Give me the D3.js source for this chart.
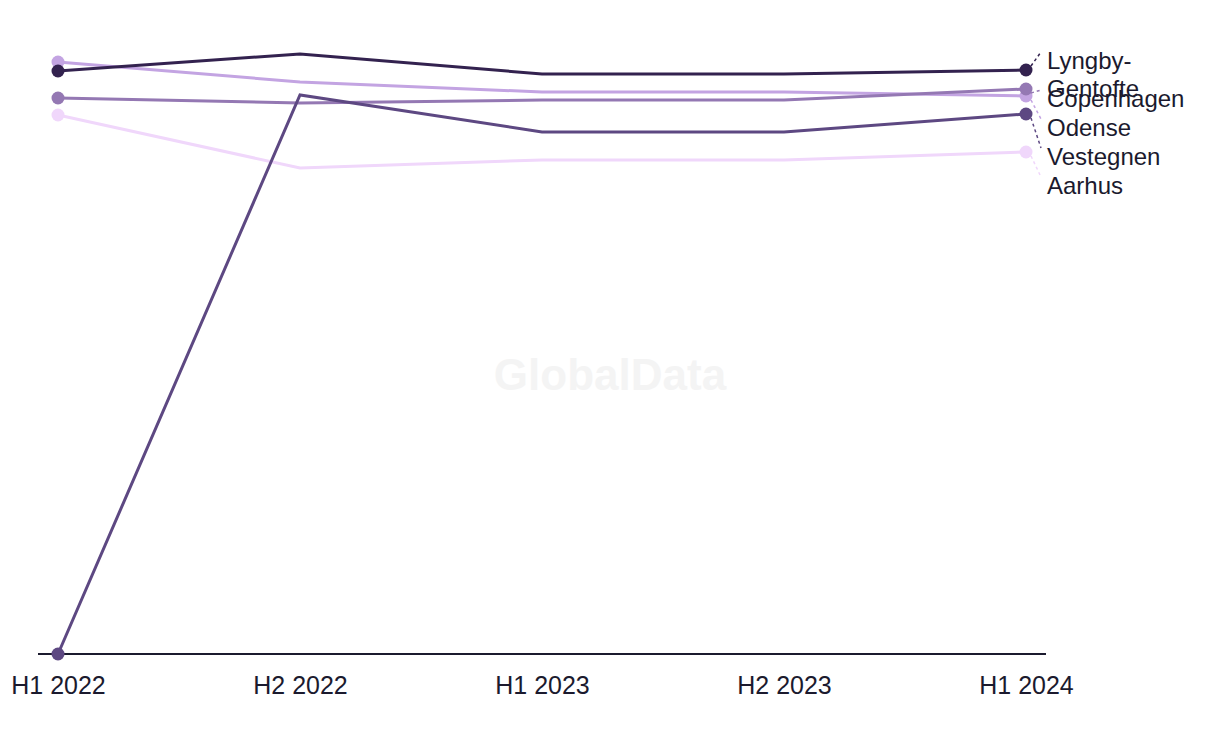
<!DOCTYPE html>
<html>
<head>
<meta charset="utf-8">
<script src="https://cdn.jsdelivr.net/npm/d3@7/dist/d3.min.js"></script>
<style>
  html, body { margin: 0; padding: 0; background: #fff; }
  svg { display: block; font-family: "Liberation Sans", "Inter", sans-serif; }
</style>
</head>
<body>
<div id="chart"></div>
<script>
// Periods on the x axis
const periods = ['H1 2022', 'H2 2022', 'H1 2023', 'H2 2023', 'H1 2024'];

// Series values
const lyngby = [58.3, 60.0, 58.0, 58.0, 58.4];
const copenhagen = [55.6, 55.1, 55.4, 55.4, 56.5];
const odense = [59.2, 57.2, 56.2, 56.2, 55.8];
const vestegnen = [0, 55.9, 52.2, 52.2, 54.0];
const aarhus = [53.9, 48.6, 49.4, 49.4, 50.2];

const seriesNames = ['Aarhus', 'Odense', 'Copenhagen', 'Vestegnen', 'Lyngby-Gentofte'];
const seriesValues = [aarhus, odense, copenhagen, vestegnen, lyngby];
const seriesColors = ['#f0d7fb', '#c3a4e2', '#9478b3', '#5d4882', '#33224f'];

const width = 1220;
const height = 744;
const margin = { top: 54, right: 194, bottom: 90, left: 58 };

const x = d3.scalePoint()
  .domain(periods)
  .range([margin.left, width - margin.right]);

const y = d3.scaleLinear()
  .domain([0, 60])
  .range([height - margin.bottom, margin.top]);

const svg = d3.select('#chart')
  .append('svg')
  .attr('width', width)
  .attr('height', height);

// Watermark
svg.append('text')
  .attr('x', 610)
  .attr('y', 374)
  .attr('text-anchor', 'middle')
  .attr('dominant-baseline', 'central')
  .attr('font-size', 44)
  .attr('font-weight', 'bold')
  .attr('fill', '#f4f4f4')
  .text('GlobalData');

// X axis
svg.append('g')
  .attr('transform', `translate(0,${y(0)})`)
  .call(d3.axisBottom(x).tickSize(0).tickPadding(22))
  .call(g => g.select('.domain').remove())
  .call(g => g.selectAll('.tick text')
    .attr('fill', '#1b1a2e')
    .attr('font-size', 25)
    .attr('font-family', '"Liberation Sans", sans-serif'));

svg.append('line')
  .attr('x1', 38)
  .attr('x2', 1046)
  .attr('y1', y(0))
  .attr('y2', y(0))
  .attr('stroke', '#1b1a2e')
  .attr('stroke-width', 2);

const series = seriesNames.map((name, i) => ({
  name,
  values: seriesValues[i],
  color: seriesColors[i]
}));

const line = d3.line()
  .x((d, i) => x(periods[i]))
  .y(d => y(d));

// Lines
svg.selectAll('.series')
  .data(series)
  .enter()
  .append('path')
  .attr('class', 'series')
  .attr('d', d => line(d.values))
  .attr('fill', 'none')
  .attr('stroke', d => d.color)
  .attr('stroke-width', 3);

// Start and end markers
series.forEach(s => {
  const last = s.values.length - 1;
  [0, last].forEach(i => {
    svg.append('circle')
      .attr('cx', x(periods[i]))
      .attr('cy', y(s.values[i]))
      .attr('r', 6.5)
      .attr('fill', s.color);
  });
});

// End labels, pushed apart so they don't collide
const labels = series
  .map(s => ({ name: s.name, color: s.color, yEnd: y(s.values[s.values.length - 1]) }))
  .sort((a, b) => a.yEnd - b.yEnd);

const gap = 29;
labels.forEach((l, i) => {
  l.ly = l.yEnd - 10;
  if (i === 1) l.ly = Math.max(l.yEnd + 9, labels[0].ly + gap);
  if (i > 1) l.ly = Math.max(l.ly, labels[i - 1].ly + gap);
});

const xEnd = x(periods[periods.length - 1]);
const labelX = xEnd + 21;

labels.forEach(l => {
  svg.append('line')
    .attr('x1', xEnd + 5)
    .attr('y1', l.yEnd + (l.ly - 8 < l.yEnd ? -4 : 4))
    .attr('x2', labelX - 6)
    .attr('y2', l.ly - 8)
    .attr('stroke', l.color)
    .attr('stroke-width', 1.5)
    .attr('stroke-dasharray', '3,3');

  const t = svg.append('text')
    .attr('x', labelX)
    .attr('y', l.ly)
    .attr('dominant-baseline', 'central')
    .attr('font-size', 24)
    .attr('fill', '#1b1a2e');

  const parts = l.name.includes('-') ? [l.name.split('-')[0] + '-', l.name.split('-')[1]] : [l.name];
  parts.forEach((p, j) => {
    t.append('tspan')
      .attr('x', labelX)
      .attr('dy', j === 0 ? 0 : 28)
      .text(p);
  });
});
</script>
</body>
</html>
